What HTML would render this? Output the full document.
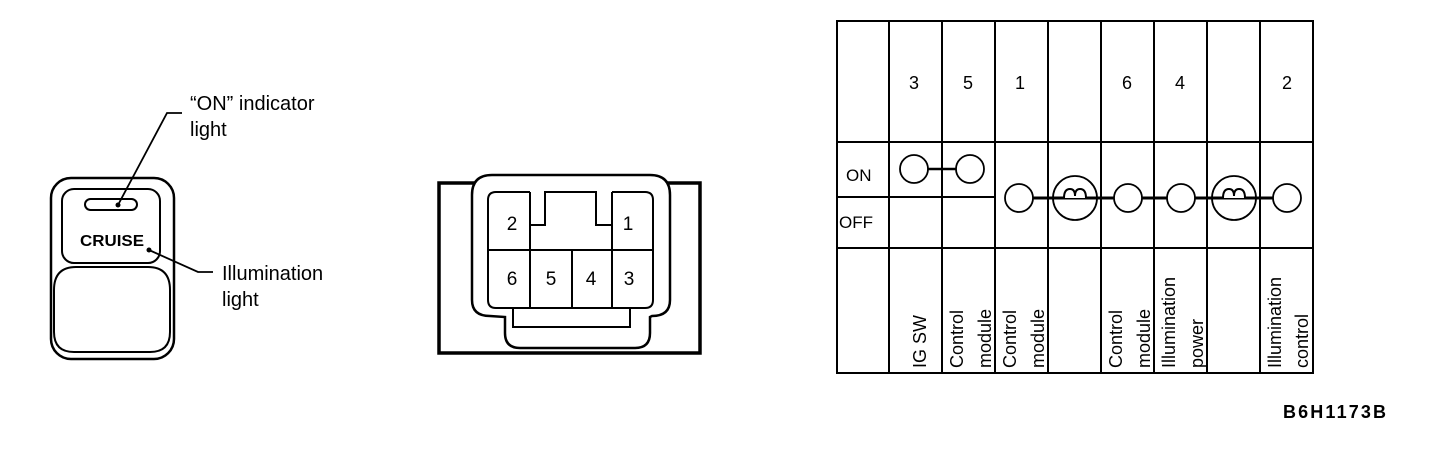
<!DOCTYPE html>
<html><head><meta charset="utf-8"><style>
body{margin:0;background:#fff;}
svg{display:block;font-family:"Liberation Sans",Arial,sans-serif;}
</style></head><body>
<svg width="1440" height="466" viewBox="0 0 1440 466" xmlns="http://www.w3.org/2000/svg">
<g fill="none" stroke="#000" stroke-width="2.5">
  <rect x="51" y="178" width="123" height="181" rx="20"/>
  <rect x="62" y="189" width="98" height="74" rx="12" stroke-width="2"/>
  <path d="M54 290 Q54 267 76 267 L148 267 Q170 267 170 290 L170 332 Q170 352 150 352 L74 352 Q54 352 54 332 Z" stroke-width="2"/>
  <rect x="85" y="199" width="52" height="11" rx="5.5" stroke-width="2"/>
  <path d="M118 205 L167 113 L182 113" stroke-width="1.8"/>
  <path d="M149 250 L198 272 L213 272" stroke-width="1.8"/>
</g>
<circle cx="118" cy="205" r="2.5"/>
<circle cx="149" cy="250" r="2.5"/>
<text x="80" y="246" font-size="16" font-weight="bold" textLength="64" lengthAdjust="spacingAndGlyphs">CRUISE</text>
<g font-size="20">
<text x="190" y="110">“ON” indicator</text>
<text x="190" y="136">light</text>
<text x="222" y="280">Illumination</text>
<text x="222" y="306">light</text>
</g>

<!-- connector -->
<g fill="none" stroke="#000" stroke-width="2.5">
  <rect x="439" y="183" width="261" height="170" stroke-width="3.5"/>
  <path d="M472 195 Q472 175 492 175 L650 175 Q670 175 670 195 L670 300 Q670 316 652 316 L650 317 L650 333 Q650 348 635 348 L520 348 Q505 348 505 333 L505 317 L490 316 Q472 316 472 300 Z" fill="#fff"/>
  <path d="M530 192 L496 192 Q488 192 488 200 L488 300 Q488 308 496 308 L645 308 Q653 308 653 300 L653 200 Q653 192 645 192 L612 192" stroke-width="2"/>
  <path d="M488 250 L653 250 M530 192 L530 308 M572 250 L572 308 M612 192 L612 308 M530 225 L545 225 L545 192 L596 192 L596 225 L612 225" stroke-width="2"/>
  <rect x="513" y="308" width="117" height="19" stroke-width="2"/>
</g>
<g font-size="19" text-anchor="middle">
<text x="512" y="230">2</text><text x="628" y="230">1</text>
<text x="512" y="285">6</text><text x="551" y="285">5</text><text x="591" y="285">4</text><text x="629" y="285">3</text>
</g>

<!-- table -->
<g fill="none" stroke="#000" stroke-width="2">
  <rect x="837" y="21" width="476" height="352"/>
  <path d="M889 21V373 M942 21V373 M995 21V373 M1048 21V373 M1101 21V373 M1154 21V373 M1207 21V373 M1260 21V373"/>
  <path d="M837 142H1313 M837 248H1313 M837 197H995"/>
</g>
<g fill="#fff" stroke="#000" stroke-width="1.8">
  <line x1="914" y1="169" x2="970" y2="169" stroke-width="2.5"/>
  <line x1="1019" y1="198" x2="1287" y2="198" stroke-width="3"/>
  <circle cx="914" cy="169" r="14"/><circle cx="970" cy="169" r="14"/>
  <circle cx="1019" cy="198" r="14"/><circle cx="1128" cy="198" r="14"/>
  <circle cx="1181" cy="198" r="14"/><circle cx="1287" cy="198" r="14"/>
  <circle cx="1075" cy="198" r="22" fill="none"/><circle cx="1234" cy="198" r="22" fill="none"/>
</g>
<g fill="#fff" stroke="#000" stroke-width="2">
  <path d="M1064 198 Q1064 189 1070 189 Q1075 189 1075 196 Q1075 189 1080 189 Q1086 189 1086 198" />
  <path d="M1223 198 Q1223 189 1229 189 Q1234 189 1234 196 Q1234 189 1239 189 Q1245 189 1245 198" />
</g>
<g font-size="18" text-anchor="middle">
<text x="914" y="89">3</text><text x="968" y="89">5</text><text x="1020" y="89">1</text>
<text x="1127" y="89">6</text><text x="1180" y="89">4</text><text x="1287" y="89">2</text>
</g>
<text x="846" y="181" font-size="17">ON</text>
<text x="839" y="228" font-size="17">OFF</text>
<g font-size="18">
<text transform="translate(926 368) rotate(-90)">IG SW</text>
<text transform="translate(963 368) rotate(-90)">Control</text>
<text transform="translate(991 368) rotate(-90)">module</text>
<text transform="translate(1016 368) rotate(-90)">Control</text>
<text transform="translate(1044 368) rotate(-90)">module</text>
<text transform="translate(1122 368) rotate(-90)">Control</text>
<text transform="translate(1150 368) rotate(-90)">module</text>
<text transform="translate(1175 368) rotate(-90)">Illumination</text>
<text transform="translate(1203 368) rotate(-90)">power</text>
<text transform="translate(1281 368) rotate(-90)">Illumination</text>
<text transform="translate(1308 368) rotate(-90)">control</text>
</g>
<text x="1283" y="418" font-size="18" font-weight="bold" textLength="103">B6H1173B</text>
</svg>
</body></html>
